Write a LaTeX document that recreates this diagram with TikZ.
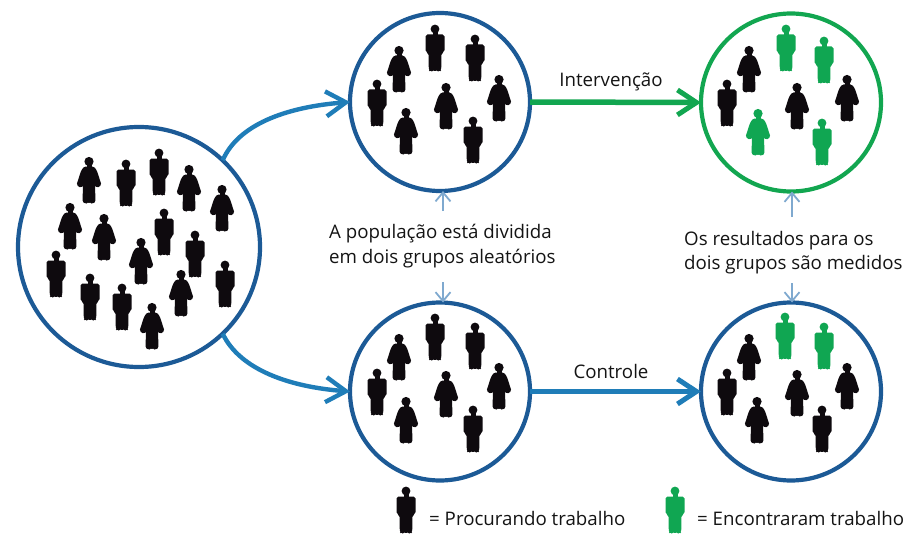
\documentclass[tikz,border=0pt]{standalone}
\usepackage{fontspec}
\setmainfont{Open Sans}
\usetikzlibrary{arrows.meta,shapes.geometric}
\definecolor{ringblue}{HTML}{1C5A96}
\definecolor{flowblue}{HTML}{1F7DB8}
\definecolor{flowgreen}{HTML}{12A650}
\definecolor{thinblue}{HTML}{7FA9CF}
\definecolor{inkblack}{HTML}{0E0A0E}
\definecolor{jobgreen}{HTML}{10A652}
\tikzset{
  x=1pt,y=-1pt,
  groupring/.style={shape=ellipse,draw=#1,line width=4.2pt,inner sep=0pt,outer sep=0pt,fill=white},
  bigring/.style={groupring=ringblue,minimum width=242pt,minimum height=240pt},
  midring/.style={groupring=#1,minimum width=180pt,minimum height=178pt},
  mainflow/.style={line width=5.5pt,-{Straight Barb[length=19pt,width=25pt,line width=5pt]}},
  curveflow/.style={draw=flowblue,line width=4.4pt,-{Straight Barb[length=20pt,width=25pt,line width=4.4pt]}},
  thinflow/.style={draw=thinblue,line width=2.2pt,-{Straight Barb[length=9pt,width=15pt,line width=1.8pt]}},
  label/.style={font=\fontsize{18.7}{24.5}\selectfont,inner sep=0pt,text=black!92},
  personfill/.style={fill=inkblack},
  greenperson/.style={personfill/.style={fill=jobgreen}},
  man/.pic={
    \path[personfill] (0,-19) circle (4.4);
    \path[personfill] (-2.5,-18) rectangle (2.5,-12);
    \path[personfill,rounded corners=1.8pt] (-9.5,-13.5) -- (9.5,-13.5) -- (9.5,4) -- (6.5,5) -- (6.2,22) -- (5,23.5) -- (1.5,23.5) -- (0,21.5) -- (-1.5,23.5) -- (-5,23.5) -- (-6.2,22) -- (-6.5,5) -- (-9.5,4) -- cycle;
  },
  woman/.pic={
    \path[personfill] (0,-18.5) circle (4.6);
    \path[personfill] (-2.5,-17) rectangle (2.5,-11);
    \path[personfill,rounded corners=1.5pt] (-5,-13.5) -- (5,-13.5) -- (8,-9) -- (12.5,5) -- (8,8) -- (6,5) -- (6.5,22) -- (4,23.5) -- (1,23.5) -- (0,21.5) -- (-1,23.5) -- (-4,23.5) -- (-6.5,22) -- (-6,5) -- (-8,8) -- (-12.5,5) -- (-8,-9) -- cycle;
  },
}
\begin{document}
\begin{tikzpicture}
\useasboundingbox (0,0) rectangle (908,535);

\node[bigring] (pop) at (139,247) {};
\node[midring=ringblue] (topmid) at (440,102) {};
\node[midring=flowgreen] (topres) at (791,102.5) {};
\node[midring=ringblue] (botmid) at (440,391.5) {};
\node[midring=ringblue] (botres) at (791,391.5) {};

% population
\foreach \px/\py in {126/183,159/172,164/232,195/254,56/274,90/297,122/307,225/284} \pic at (\px,\py) {man};
\foreach \px/\py in {89/180,189/188,222/208,70/226,104/237,141/261,181/293,152/326} \pic at (\px,\py) {woman};
% top middle
\foreach \px/\py in {435/48,475/58,377/103,473/140} \pic at (\px,\py) {man};
\foreach \px/\py in {399/69,446/106,499/98,406/131} \pic at (\px,\py) {woman};
% top result
\pic at (727,103) {man};
\foreach \px/\py in {749/69,797/106,847/98} \pic at (\px,\py) {woman};
\foreach \px/\py in {786/48,824/60,822/142} \pic[greenperson] at (\px,\py) {man};
\pic[greenperson] at (758,132) {woman};
% bottom middle
\foreach \px/\py in {435/337,475/346,377/392,473/429} \pic at (\px,\py) {man};
\foreach \px/\py in {399/357,446/394,499/386,406/420} \pic at (\px,\py) {woman};
% bottom result
\foreach \px/\py in {727/392,822/429} \pic at (\px,\py) {man};
\foreach \px/\py in {749/357,797/393,847/386,757/420} \pic at (\px,\py) {woman};
\foreach \px/\py in {785/336,824/346} \pic[greenperson] at (\px,\py) {man};

% connectors
\draw[curveflow] (pop.46) .. controls (238,125) and (285,107) .. (topmid.west);
\draw[curveflow] (pop.-46) .. controls (240,370) and (290,387) .. (botmid.west);
\draw[mainflow,draw=flowgreen] (topmid.east) -- (topres.west);
\draw[mainflow,draw=flowblue] (botmid.east) -- (botres.west);

% labels
\node[label,anchor=base] (interv) at (611,87) {Intervenção};
\node[label,anchor=base] (contr) at (611,378) {Controle};
\node[label,anchor=west,align=left] (splitlab) at (329,246) {A população está dividida\\em dois grupos aleatórios};
\node[label,anchor=west,align=left] (measlab) at (684,252.5) {Os resultados para os\\dois grupos são medidos};

\coordinate (splitup) at (443,211);
\coordinate (splitdown) at (443,282);
\coordinate (measup) at (792,217);
\coordinate (measdown) at (792,283);
\draw[thinflow] (splitup) -- (topmid.south -| splitup);
\draw[thinflow] (splitdown) -- (botmid.north -| splitdown);
\draw[thinflow] (measup) -- (topres.south -| measup);
\draw[thinflow] (measdown) -- (botres.north -| measdown);

% legend
\pic at (406,510) {man};
\pic[greenperson] at (675,510) {man};
\node[label,anchor=base west] (seek) at (429,525) {= Procurando trabalho};
\node[label,anchor=base west] (found) at (697,525) {= Encontraram trabalho};
\end{tikzpicture}
\end{document}
